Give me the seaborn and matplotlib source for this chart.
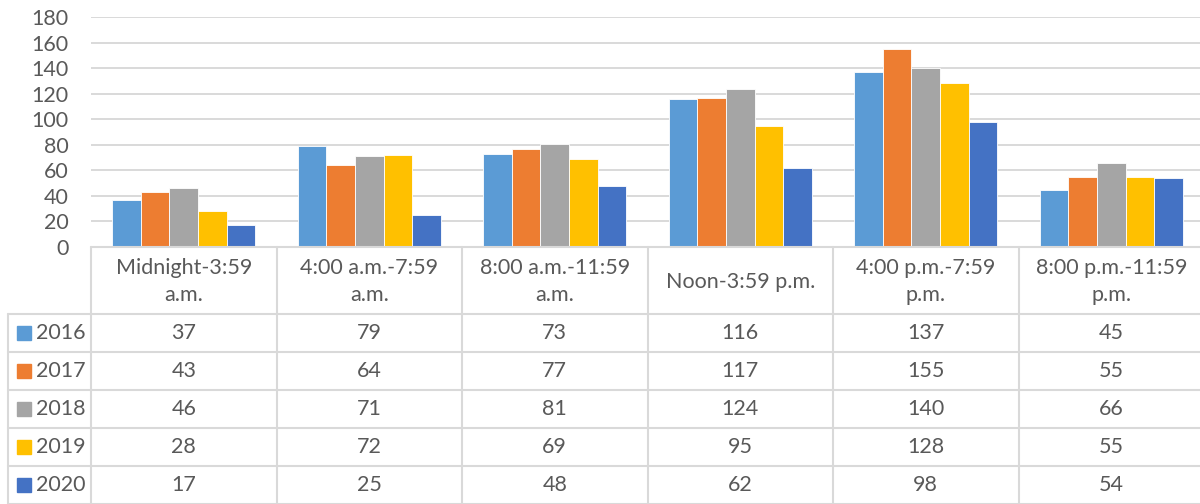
import pandas as pd
import seaborn as sns
import matplotlib.pyplot as plt
from matplotlib.patches import Rectangle
from matplotlib.transforms import blended_transform_factory

# data
periods = ["Midnight-3:59\na.m.", "4:00 a.m.-7:59\na.m.", "8:00 a.m.-11:59\na.m.",
           "Noon-3:59 p.m.", "4:00 p.m.-7:59\np.m.", "8:00 p.m.-11:59\np.m."]
years = ["2016", "2017", "2018", "2019", "2020"]
v2016 = [37, 79, 73, 116, 137, 45]
v2017 = [43, 64, 77, 117, 155, 55]
v2018 = [46, 71, 81, 124, 140, 66]
v2019 = [28, 72, 69, 95, 128, 55]
v2020 = [17, 25, 48, 62, 98, 54]
colors = ["#5B9BD5", "#ED7D31", "#A5A5A5", "#FFC000", "#4472C4"]

series = [v2016, v2017, v2018, v2019, v2020]
rows = []
for y, vals in zip(years, series):
    for p, v in zip(periods, vals):
        rows.append({"period": p, "year": y, "count": v})
df = pd.DataFrame(rows)

sns.set_style("white")
plt.rcParams["font.family"] = ["Lato", "DejaVu Sans"]
txt = "#595959"
grid = "#D9D9D9"
fs = 15.5

W, H = 1200, 504
fig = plt.figure(figsize=(12, 5.04), dpi=100)
ax = fig.add_axes([91 / W, (H - 247) / H, (1204 - 91) / W, (247 - 17) / H])

sns.barplot(data=df, x="period", y="count", hue="year", palette=colors,
            saturation=1, width=0.77, edgecolor="white", linewidth=0.6,
            ax=ax, legend=False)
ax.set_xlim(-0.5, 5.5)
ax.set_ylim(0, 180)
ax.set_yticks(range(0, 181, 20))
ax.set_xticks([])
ax.set_xlabel("")
ax.set_ylabel("")
ax.yaxis.grid(True, color=grid, lw=1.4)
ax.set_axisbelow(True)
for s in ax.spines.values():
    s.set_visible(False)
ax.tick_params(axis="y", length=0, pad=16, labelsize=fs, labelcolor=txt)

# data table under the chart
tab = fig.add_axes([0, 0, 1, 1], facecolor="none")
tab.set_xlim(0, W)
tab.set_ylim(H, 0)
tab.axis("off")
tr = blended_transform_factory(ax.transData, tab.transData)

left = -0.5 - 83 / 185.5
right = 5.5
head_top, head_bot = 247, 314
row_h = 38
lk = dict(color=grid, lw=1.5, transform=tr, clip_on=False)

tab.plot([-0.5, right], [head_top, head_top], **lk)
for r in range(6):
    y = head_bot + r * row_h
    tab.plot([left, right], [y, y], **lk)
tab.plot([left, left], [head_bot, H], **lk)
for i in range(7):
    tab.plot([i - 0.5, i - 0.5], [head_top, H], **lk)

for i, p in enumerate(periods):
    tab.text(i, (head_top + head_bot) / 2 + 1, p, ha="center", va="center",
             fontsize=fs, color=txt, linespacing=1.42, transform=tr)

sq = 14 / 185.5
for r, (y, vals, c) in enumerate(zip(years, series, colors)):
    yc = head_bot + r * row_h + row_h / 2
    tab.add_patch(Rectangle((left + 9 / 185.5, yc - 7), sq, 14, color=c,
                            transform=tr, clip_on=False))
    tab.text(left + 28 / 185.5, yc, y, ha="left", va="center",
             fontsize=fs, color=txt, transform=tr)
    for i, v in enumerate(vals):
        tab.text(i, yc, str(v), ha="center", va="center",
                 fontsize=fs, color=txt, transform=tr)

fig.savefig("out.png", dpi=100)
